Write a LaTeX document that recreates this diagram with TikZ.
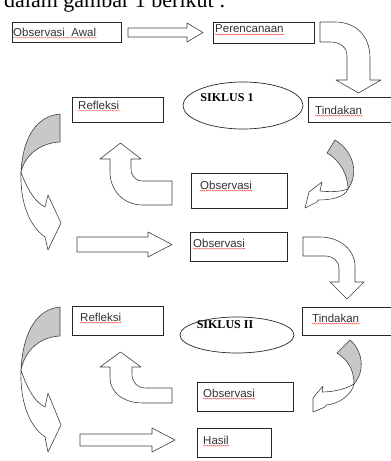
\documentclass[tikz,border=0pt]{standalone}
\usepackage{fontspec}
\setmainfont{Liberation Serif}
\newfontfamily\arialf{Liberation Sans}
\usetikzlibrary{decorations.pathmorphing}
\definecolor{ln}{HTML}{404040}
\definecolor{gr}{HTML}{C8C8C8}
\tikzset{
  box/.style={draw=black!85, line width=0.7pt, inner sep=0, anchor=north west, fill=white},
  lbl/.style={anchor=west, inner sep=0, font=\arialf\fontsize{11.5}{13}\selectfont, text=black!80},
  arr/.style={draw=ln, line width=0.6pt, fill=white, line join=round},
  garr/.style={draw=ln, line width=0.6pt, fill=gr, line join=round},
  sq/.style={draw=red!80, line width=0.35pt, decorate, decoration={snake, amplitude=0.5pt, segment length=2pt}},
  elp/.style={draw=black!85, line width=0.7pt, ellipse},
}
\newcommand{\uline}[1]{\draw[sq] ([yshift=-1.2pt]#1.south west) -- ([yshift=-1.2pt]#1.south east);}
\begin{document}
\begin{tikzpicture}[x=1pt,y=-1pt]
\useasboundingbox (0,0) rectangle (391,461);
\clip (0,0) rectangle (391,461);
% top partial text
\node[anchor=base west, inner sep=0, font=\fontsize{22}{24}\selectfont] (top) at (4,7) {dalam gambar 1 berikut :};

% boxes
\node[box, minimum width=109pt, minimum height=20pt] (oa) at (12,22) {};
\node[box, minimum width=101pt, minimum height=21pt] (per) at (213,22) {};
\node[box, minimum width=91pt, minimum height=25pt] (ref1) at (72,97) {};
\node[box, minimum width=90pt, minimum height=25pt] (tin1) at (308,97) {};
\node[box, minimum width=96pt, minimum height=35pt] (obs1) at (191,173) {};
\node[box, minimum width=97pt, minimum height=29pt] (obsm) at (190,232) {};
\node[box, minimum width=91pt, minimum height=29pt] (ref2) at (72,306) {};
\node[box, minimum width=95pt, minimum height=28pt] (tin2) at (302,307) {};
\node[box, minimum width=96pt, minimum height=29pt] (obs2) at (197,382) {};
\node[box, minimum width=74pt, minimum height=29pt] (has) at (197,428) {};

% labels
\node[lbl] (toa) at (13,32) {Observasi\ \ Awal};
\node[lbl] (tper) at (215,29) {Perencanaan};
\node[lbl] (tref1) at (78,105) {Refleksi};
\node[lbl] (ttin1) at (315,110) {Tindakan};
\node[lbl] (tobs1) at (200,185) {Observasi};
\node[lbl] (tobsm) at (193,243) {Observasi};
\node[lbl] (tref2) at (80,317) {Refleksi};
\node[lbl] (ttin2) at (312,318) {Tindakan};
\node[lbl] (tobs2) at (203,393) {Observasi};
\node[lbl] (thas) at (203,440) {Hasil};
\foreach \n in {toa,tper,tref1,ttin1,tobs1,tobsm,tref2,ttin2,tobs2,thas}{\uline{\n}}

% ellipses
\draw[draw=black!85, line width=0.7pt] (243,105.5) ellipse [x radius=60, y radius=23.5];
\node[inner sep=0, font=\bfseries\fontsize{12}{14}\selectfont] (s1) at (227,98) {SIKLUS 1};
\draw[draw=black!85, line width=0.7pt] (237,335) ellipse [x radius=57, y radius=18];
\node[inner sep=0, font=\bfseries\fontsize{12}{14}\selectfont] (s2) at (225,325) {SIKLUS II};

% straight block arrows
\draw[arr] (128,28) -- (187,28) -- (187,23) -- (203,32.5) -- (187,42) -- (187,37) -- (128,37) -- cycle;
\draw[arr] (77,237) -- (148,237) -- (148,232) -- (172,244.5) -- (148,257) -- (148,252) -- (77,252) -- cycle;
\draw[arr] (80,434) -- (152,434) -- (152,428) -- (175,440) -- (152,452) -- (152,446) -- (80,446) -- cycle;

% curved down arrows
\draw[arr] (320,22) -- (335,22) .. controls (355,22) and (370,35) .. (370,58) -- (370,80)
  -- (381,80) -- (358.5,93) -- (336,80) -- (347,80) -- (347,56)
  .. controls (347,47) and (340,42) .. (330,42) -- (320,42) -- cycle;
\draw[arr] (303,237) -- (320,237) .. controls (340,237) and (355,250) .. (355,266) -- (355,282)
  -- (364,282) -- (347,299) -- (330,282) -- (339,282) -- (339,268)
  .. controls (339,261) and (333,256) .. (325,256) -- (303,256) -- cycle;

% up arrows
\draw[arr] (131,159) -- (131,168) .. controls (131,176) and (135,181) .. (143,181) -- (172,181)
  -- (172,205) -- (143,205) .. controls (123,205) and (110,190) .. (110,172) -- (110,159)
  -- (100,159) -- (120.5,143) -- (141,159) -- cycle;
\draw[arr] (132,367) -- (132,374) .. controls (132,382) and (137,388) .. (146,388) -- (172,388)
  -- (172,403) -- (143,403) .. controls (123,403) and (110,392) .. (110,378) -- (110,367)
  -- (100,367) -- (120.5,352) -- (141,367) -- cycle;

% left big curved arrows
\draw[garr] (60,114) -- (60,142) .. controls (40,143) and (25,155) .. (21,172)
  .. controls (23,135) and (38,116) .. (60,114) -- cycle;
\draw[arr] (21,172) .. controls (20,200) and (28,225) .. (45,237) -- (48,250) -- (61,223)
  -- (48,195) -- (45,207) .. controls (35,202) and (28,190) .. (22,175) -- cycle;
\draw[garr] (60,307) -- (60,336) .. controls (40,337) and (25,350) .. (21,370)
  .. controls (23,330) and (38,309) .. (60,307) -- cycle;
\draw[arr] (21,370) .. controls (20,400) and (28,425) .. (45,437) -- (48,452) -- (61,425)
  -- (48,393) -- (45,407) .. controls (35,402) and (28,390) .. (22,373) -- cycle;

% right small curved arrows
\draw[garr] (327,153) -- (335,140) .. controls (352,150) and (360,172) .. (348,189)
  .. controls (348,175) and (340,160) .. (327,153) -- cycle;
\draw[arr] (348,189) .. controls (340,192) and (330,192) .. (320,191) -- (322,182) -- (309,192)
  -- (305,208) -- (317,202) -- (318,200) .. controls (332,200) and (345,197) .. (348,189) -- cycle;
\draw[garr] (337,353) -- (350,340) .. controls (362,350) and (366,370) .. (354,384)
  .. controls (354,370) and (348,360) .. (337,353) -- cycle;
\draw[arr] (354,384) .. controls (346,389) and (333,392) .. (322,392) -- (323,386) -- (313,398)
  -- (313,412) -- (325,407) -- (326,405) .. controls (340,404) and (352,394) .. (354,384) -- cycle;
\end{tikzpicture}
\end{document}
